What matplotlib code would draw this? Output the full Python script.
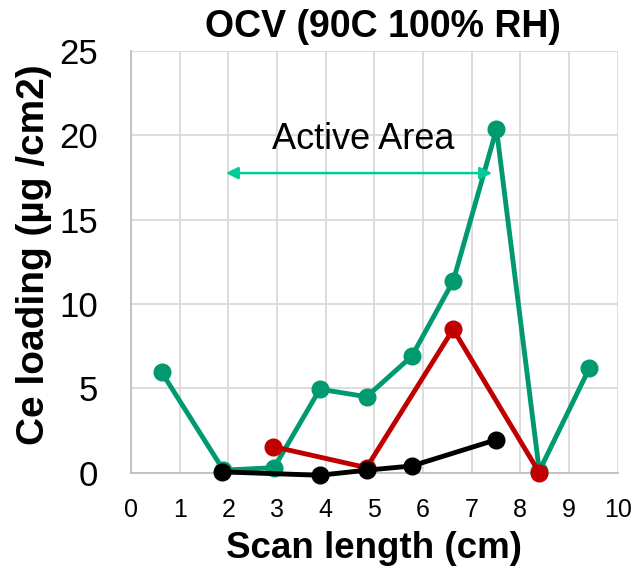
import matplotlib.pyplot as plt

plt.rcParams['font.family'] = ['Liberation Sans', 'DejaVu Sans']

# data
green_x = [0.63, 1.90, 2.94, 3.88, 4.84, 5.77, 6.62, 7.51, 8.39, 9.42]
green_y = [5.95, 0.15, 0.3, 4.95, 4.5, 6.9, 11.35, 20.35, 0.1, 6.2]

red_x = [2.92, 4.84, 6.62, 8.39]
red_y = [1.55, 0.3, 8.5, 0.0]

black_x = [1.88, 3.88, 4.84, 5.77, 7.50]
black_y = [0.05, -0.15, 0.15, 0.4, 1.95]

arrow_x = [1.95, 7.42]
arrow_y = 17.75

fig = plt.figure(figsize=(6.35, 5.73), dpi=100)
ax = fig.add_axes([0.2063, 0.175, 0.7664, 0.7365])

ax.plot(green_x, green_y, color='#009970', lw=3.5, marker='o', ms=12, clip_on=False, zorder=3)
ax.plot(red_x, red_y, color='#C00000', lw=3.5, marker='o', ms=12, clip_on=False, zorder=4)
ax.plot(black_x, black_y, color='black', lw=3.5, marker='o', ms=12, clip_on=False, zorder=5)

# active area arrow
ax.annotate('', xy=(arrow_x[0], arrow_y), xytext=(arrow_x[1], arrow_y),
            arrowprops=dict(arrowstyle='<|-|>', color='#00CC99', lw=1.8,
                            mutation_scale=18, shrinkA=0, shrinkB=0))
ax.text(4.77, 19.16, 'Active Area', fontsize=26, ha='center', va='baseline')

ax.set_xlim(0, 10)
ax.set_ylim(0, 25)
ax.set_xticks(range(0, 11))
ax.set_yticks(range(0, 26, 5))
ax.grid(True, color='#D9D9D9', lw=1.3)
ax.set_axisbelow(True)
for s in ['top', 'right']:
    ax.spines[s].set_visible(False)
for s in ['left', 'bottom']:
    ax.spines[s].set_color('#BFBFBF')
    ax.spines[s].set_linewidth(1.3)
ax.tick_params(length=0)
ax.tick_params(axis='x', pad=18.5, labelsize=18)
ax.tick_params(axis='y', pad=24, labelsize=25)

fig.text(0.6038, 0.9349, 'OCV (90C 100% RH)', fontsize=27, fontweight='bold',
         ha='center', va='baseline')
ax.set_xlabel('Scan length (cm)', fontsize=26.5, fontweight='bold', labelpad=6)
ax.set_ylabel('Ce loading (µg /cm2)', fontsize=28, fontweight='bold')
ax.yaxis.set_label_coords(-0.162, 0.516)

fig.savefig('out.png')
